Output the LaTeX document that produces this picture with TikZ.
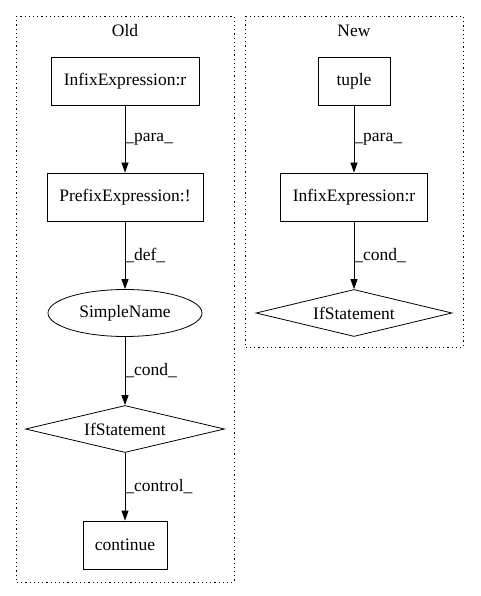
\documentclass[tikz,border=0pt]{standalone}
\usepackage{fontspec}
\setmainfont{Liberation Serif}
\usetikzlibrary{shapes.geometric,arrows.meta}
\begin{document}
\begin{tikzpicture}[x=1pt,y=-1pt,
  every node/.style={font=\fontsize{17.5}{20}\selectfont, inner sep=0pt},
  box/.style={draw, line width=0.8pt, rectangle, minimum height=48pt},
  ell/.style={draw, line width=0.8pt, ellipse, minimum width=154pt, minimum height=47pt},
  dia/.style={draw, line width=0.8pt, diamond, aspect=4.2, minimum width=199pt, minimum height=47pt, inner sep=0pt},
  clus/.style={draw, line width=0.8pt, dash pattern=on 1.2pt off 3pt},
  edge/.style={-{Triangle[length=10pt,width=7pt]}, line width=0.8pt},
  elab/.style={anchor=west, inner sep=0pt}
]
\useasboundingbox (0,0) rectangle (480,596);
% clusters
\draw[clus] (16,16) rectangle (234,582);
\draw[clus] (245,16) rectangle (463,347);
\node (tOld) at (125,31) {Old};
\node (tNew) at (354,31) {New};
% Old
\node[box, minimum width=148pt] (a) at (125,81) {InfixExpression:r};
\node[box, minimum width=156pt] (b) at (125,197) {PrefixExpression:!};
\node[ell, minimum width=154pt] (c) at (125,313) {SimpleName};
\node[dia, minimum width=199pt] (d) at (125,429) {IfStatement};
\node[box, minimum width=84pt] (e) at (125,545) {continue};
\draw[edge] (a) -- (b) node[elab, pos=0.5] at (125,143) {\_para\_};
\draw[edge] (b) -- (c) node[elab, pos=0.5] at (125,258) {\_def\_};
\draw[edge] (c) -- (d) node[elab, pos=0.5] at (125,372) {\_cond\_};
\draw[edge] (d) -- (e) node[elab, pos=0.5] at (125,488) {\_control\_};
% New
\node[box, minimum width=72pt] (f) at (354,81) {tuple};
\node[box, minimum width=147pt] (g) at (354,197) {InfixExpression:r};
\node[dia, minimum width=196pt] (h) at (354,313) {IfStatement};
\draw[edge] (f) -- (g) node[elab, pos=0.5] at (354,143) {\_para\_};
\draw[edge] (g) -- (h) node[elab, pos=0.5] at (354,258) {\_cond\_};
\end{tikzpicture}
\end{document}
